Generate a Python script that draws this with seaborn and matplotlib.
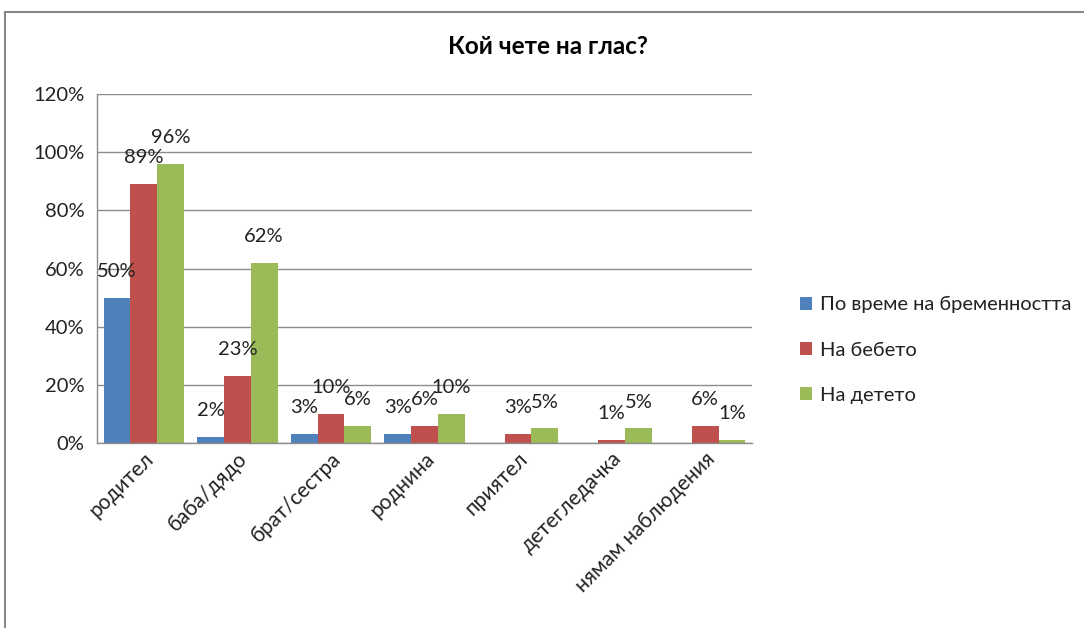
import numpy as np
import pandas as pd
import matplotlib
matplotlib.use("Agg")
import matplotlib.pyplot as plt
import seaborn as sns
from matplotlib.patches import Rectangle

categories = ["родител", "баба/дядо", "брат/сестра", "роднина", "приятел", "детегледачка", "нямам наблюдения"]
series = ["По време на бременността", "На бебето", "На детето"]
pregnancy = [0.50, 0.02, 0.03, 0.03, np.nan, np.nan, np.nan]
baby = [0.89, 0.23, 0.10, 0.06, 0.03, 0.01, 0.06]
child = [0.96, 0.62, 0.06, 0.10, 0.05, 0.05, 0.01]
yticks = [0, 0.2, 0.4, 0.6, 0.8, 1.0, 1.2]
ytick_labels = ["0%", "20%", "40%", "60%", "80%", "100%", "120%"]
colors = ["#4F81BD", "#C0504D", "#9BBB59"]
title = "Кой чете на глас?"

rows = []
for s, vals in zip(series, [pregnancy, baby, child]):
    for c, v in zip(categories, vals):
        rows.append({"category": c, "series": s, "value": v})
df = pd.DataFrame(rows)

sns.set_theme(style="white")
plt.rcParams["font.family"] = ["Lato", "DejaVu Sans"]

fig = plt.figure(figsize=(10.84, 6.28), dpi=100)
W, H = 1084, 628
ax = fig.add_axes([97 / W, 1 - 443 / H, (752 - 97) / W, (443 - 94) / H])

sns.barplot(data=df, x="category", y="value", hue="series", order=categories,
            hue_order=series, palette=colors, width=0.86, ax=ax,
            saturation=1, errorbar=None, legend=True, linewidth=0)

ax.set_ylim(0, 1.2)
ax.set_xlim(-0.5, len(categories) - 0.5)
ax.set_yticks(yticks)
ax.set_yticklabels(ytick_labels, fontsize=14.5, color="#222222")
ax.set_xlabel("")
ax.set_ylabel("")
ax.yaxis.grid(True, color="#8c8c8c", linewidth=1)
ax.set_axisbelow(True)
for side in ["top", "right"]:
    ax.spines[side].set_visible(False)
for side in ["left", "bottom"]:
    ax.spines[side].set_color("#8c8c8c")
    ax.spines[side].set_linewidth(1)
ax.tick_params(axis="y", length=4, color="#8c8c8c", direction="out", pad=5)
ax.tick_params(axis="x", length=0, pad=4)
plt.setp(ax.get_xticklabels(), rotation=45, ha="right", rotation_mode="anchor",
         fontsize=15, color="#222222")

for cont in ax.containers:
    for bar in cont:
        h = bar.get_height()
        if np.isnan(h) or h == 0:
            continue
        ax.annotate(f"{round(h * 100):d}%", (bar.get_x() + bar.get_width() / 2, h),
                    xytext=(0, 19), textcoords="offset points", ha="center",
                    va="center", fontsize=14.5, color="#222222")

leg = ax.legend(loc="center left", bbox_to_anchor=(782 / W, 1 - 350 / H),
                bbox_transform=fig.transFigure, frameon=False, fontsize=14.5,
                handlelength=0.6, handleheight=0.6, handletextpad=0.4,
                labelspacing=1.4)
for t in leg.get_texts():
    t.set_color("#222222")

fig.text(548 / W, 1 - 47 / H, title, ha="center", va="center", fontsize=17.5,
         fontweight="bold", color="#000000")

fig.patches.append(Rectangle((5 / W, -0.1), 1.2, (1 - 12 / H) + 0.1,
                             transform=fig.transFigure, fill=False,
                             edgecolor="#888888", linewidth=1.5))

fig.savefig("out.png", dpi=100)
